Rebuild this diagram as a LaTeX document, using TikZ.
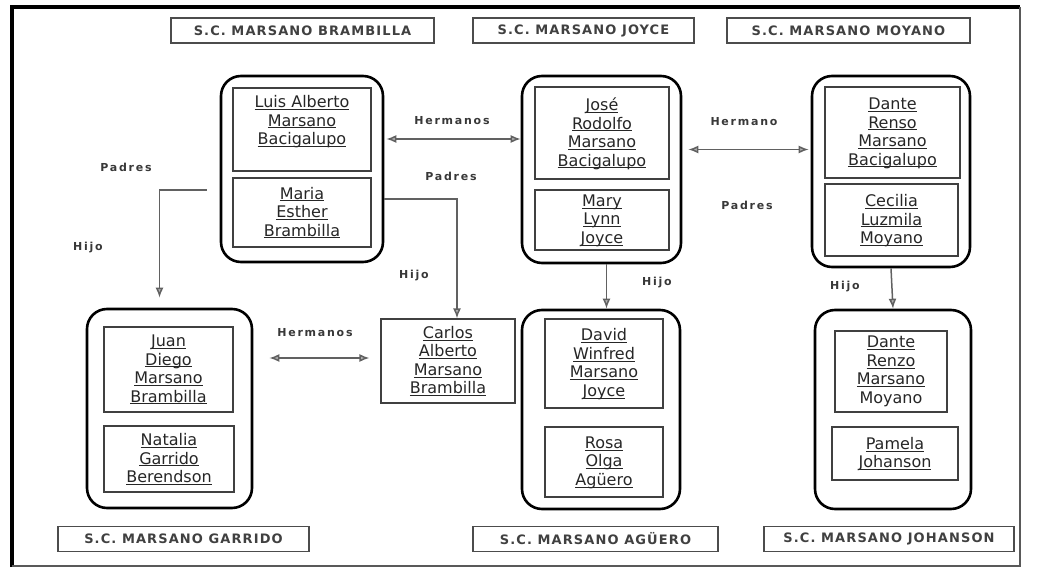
\documentclass[tikz,border=0pt]{standalone}
\usepackage{fontspec}
\setmainfont{DejaVu Sans}
\newfontfamily\hdfont[LetterSpace=8.5]{DejaVu Sans}
\newfontfamily\lbfont[LetterSpace=16]{DejaVu Sans}
\usetikzlibrary{arrows.meta}
\newcommand{\nm}[1]{\underline{\raisebox{0pt}[\height][0pt]{#1}}}

\begin{document}
\begin{tikzpicture}[x=1pt, y=-1pt,
    family/.style={draw=black, line width=2.6pt, rounded corners=20pt},
    person/.style={draw=black!75, line width=1.1pt, align=center, text=black!85,
        font=\fontsize{16}{18.5}\selectfont, inner sep=0pt},
    society/.style={draw=black!70, line width=1.3pt, minimum height=25pt,
        font=\hdfont\bfseries\fontsize{13}{15}\selectfont, text=black!75},
    rel/.style={font=\lbfont\bfseries\fontsize{11}{12}\selectfont, text=black!78},
    link/.style={draw=black!62, line width=1.5pt},
    descent/.style={link, -{Latex[length=10pt,width=8pt,fill=black!30]}},
    kin/.style={link, {Latex[length=10pt,width=8pt,fill=black!30]}-{Latex[length=10pt,width=8pt,fill=black!30]}}]
\useasboundingbox (0,0) rectangle (1037,569);
% frame
\draw[line width=4pt] (12,567) -- (12,7) -- (1020,7);
\draw[black!65, line width=1.5pt] (1020,7) -- (1020,566) -- (12,566);

% societies
\node[society, minimum width=263pt] (hBr) at (302.5,30.5) {S.C. MARSANO BRAMBILLA};
\node[society, minimum width=221pt] (hJo) at (583.5,30.5) {S.C. MARSANO JOYCE};
\node[society, minimum width=243pt] (hMo) at (848.5,30.5) {S.C. MARSANO MOYANO};
\node[society, minimum width=251pt] (hGa) at (183.5,539) {S.C. MARSANO GARRIDO};
\node[society, minimum width=245pt] (hAg) at (595.5,539) {S.C. MARSANO AGÜERO};
\node[society, minimum width=250pt] (hJh) at (889,539) {S.C. MARSANO JOHANSON};

% families
\node[family, minimum width=162pt, minimum height=186pt] (fBr) at (302,169) {};
\node[family, minimum width=159pt, minimum height=187pt] (fJo) at (601.5,169.5) {};
\node[family, minimum width=158pt, minimum height=191pt] (fMo) at (891,171.5) {};
\node[family, minimum width=165pt, minimum height=199pt] (fGa) at (169.5,408.5) {};
\node[family, minimum width=158pt, minimum height=199pt] (fAg) at (601,409.5) {};
\node[family, minimum width=156pt, minimum height=199pt] (fJh) at (893,409.5) {};

% persons
\node[person, minimum width=138pt, minimum height=83pt, text depth=19pt] (pBr1) at (302,129.5)
    {\nm{Luis Alberto}\\ \nm{Marsano}\\ \nm{Bacigalupo}};
\node[person, minimum width=138pt, minimum height=69pt] (pBr2) at (302,212.5)
    {\nm{Maria}\\ \nm{Esther}\\ \nm{Brambilla}};
\node[person, minimum width=134pt, minimum height=92pt] (pJo1) at (602,133)
    {\nm{José}\\ \nm{Rodolfo}\\ \nm{Marsano}\\ \nm{Bacigalupo}};
\node[person, minimum width=134pt, minimum height=60pt] (pJo2) at (602,220)
    {\nm{Mary}\\ \nm{Lynn}\\ \nm{Joyce}};
\node[person, minimum width=135pt, minimum height=91pt] (pMo1) at (892.5,132.5)
    {\nm{Dante}\\ \nm{Renso}\\ \nm{Marsano}\\ \nm{Bacigalupo}};
\node[person, minimum width=133pt, minimum height=72pt] (pMo2) at (891.5,220)
    {\nm{Cecilia}\\ \nm{Luzmila}\\ \nm{Moyano}};
\node[person, minimum width=129pt, minimum height=85pt] (pGa1) at (168.5,369.5)
    {\nm{Juan}\\ \nm{Diego}\\ \nm{Marsano}\\ \nm{Brambilla}};
\node[person, minimum width=130pt, minimum height=66pt] (pGa2) at (169,459)
    {\nm{Natalia}\\ \nm{Garrido}\\ \nm{Berendson}};
\node[person, minimum width=134pt, minimum height=84pt] (car) at (448,361)
    {\nm{Carlos}\\ \nm{Alberto}\\ \nm{Marsano}\\ \nm{Brambilla}};
\node[person, minimum width=118pt, minimum height=89pt] (pAg1) at (604,363.5)
    {\nm{David}\\ \nm{Winfred}\\ \nm{Marsano}\\ \nm{Joyce}};
\node[person, minimum width=118pt, minimum height=70pt] (pAg2) at (604,462)
    {\nm{Rosa}\\ \nm{Olga}\\ \nm{Agüero}};
\node[person, minimum width=112pt, minimum height=81pt] (pJh1) at (891,371.5)
    {\nm{Dante}\\ \nm{Renzo}\\ \nm{Marsano}\\ Moyano};
\node[person, minimum width=126pt, minimum height=53pt] (pJh2) at (895,453.5)
    {\nm{Pamela}\\ \nm{Johanson}};

% links
\coordinate (hA) at ([yshift=30pt]fBr.east);
\draw[kin, shorten <=2pt] (hA) -- (hA -| fJo.west);
\coordinate (hB) at ([yshift=20pt]fJo.east);
\draw[kin, shorten <=6pt, shorten >=2pt] (hB) -- (hB -| fMo.west);
\coordinate (hC) at ([xshift=-11pt,yshift=3pt]car.west);
\draw[kin, shorten >=16pt] (hC) -- (hC -| fGa.east);
\coordinate (pL) at ([xshift=-13pt,yshift=-21pt]fBr.west);
\draw[descent, shorten >=10pt] (pL) -| ([xshift=-10pt]fGa.north);
\draw[descent] ([yshift=-30pt]fBr.east) -| ([xshift=9pt]car.north);
\draw[descent] ([xshift=5pt]fJo.south) -- ([xshift=5pt]fJo.south |- fAg.north);
\draw[descent] (fMo.south) -- (fJh.north);

% labels
\node[rel] (lHer1) at (452,121) {Hermanos};
\node[rel] (lHer2) at (744,122) {Hermano};
\node[rel] (lPad1) at (126,167) {Padres};
\node[rel] (lHij1) at (88,248) {Hijo};
\node[rel] (lPad2) at (451,176) {Padres};
\node[rel] (lHij2) at (414,276) {Hijo};
\node[rel] (lPad3) at (747,205) {Padres};
\node[rel] (lHij3) at (657,283) {Hijo};
\node[rel] (lHij4) at (845,287) {Hijo};
\node[rel] (lHer3) at (315,333) {Hermanos};
\end{tikzpicture}
\end{document}
